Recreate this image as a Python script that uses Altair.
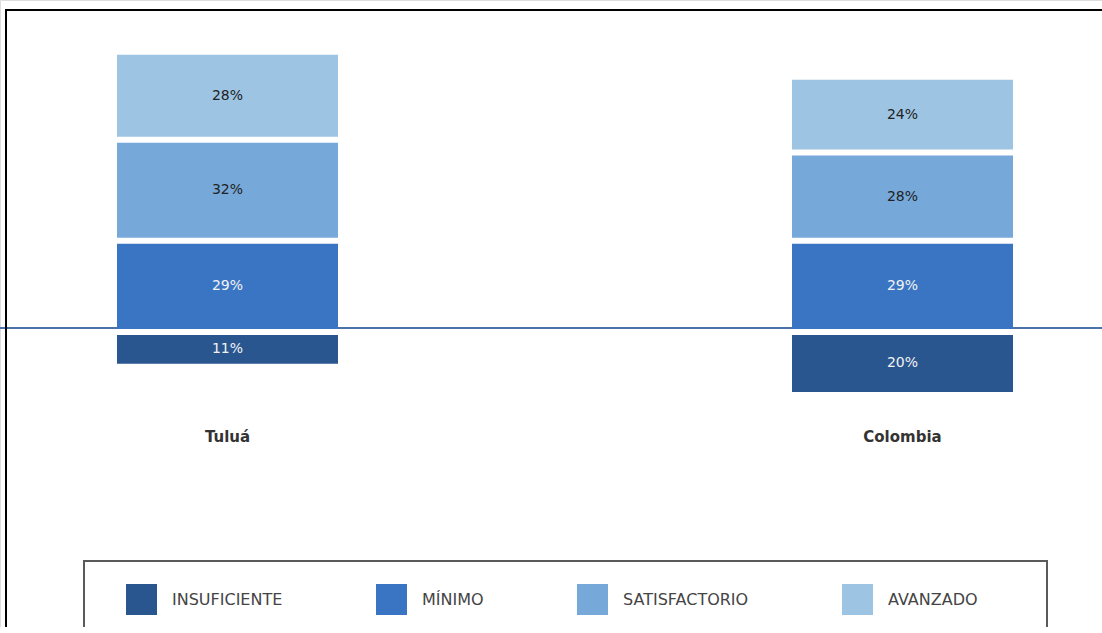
import altair as alt
import pandas as pd

categories = ["Tuluá", "Colombia"]
levels = ["INSUFICIENTE", "MÍNIMO", "SATISFACTORIO", "AVANZADO"]
tulua = [11, 29, 32, 28]
colombia = [20, 29, 28, 24]
colors = ["#2a5690", "#3a75c4", "#76a9d9", "#9dc4e3"]

rows = []
for cat, vals in zip(categories, [tulua, colombia]):
    pos = 0
    for i, (lvl, v) in enumerate(zip(levels, vals)):
        if i == 0:
            start, end = -v, 0
        else:
            start, end = pos, pos + v
            pos = end
        rows.append({"cat": cat, "level": lvl, "order": i, "value": v,
                     "start": start, "end": end, "mid": (start + end) / 2,
                     "label": f"{v}%"})
df = pd.DataFrame(rows)

W, H = 1102, 627
yscale = alt.Scale(domain=[-94.29, 104.76], nice=False, zero=False)
xscale = alt.Scale(domain=categories, range=[117, 1013], paddingInner=0.6726, paddingOuter=0)

base = alt.Chart(df)

bars = base.mark_bar(yOffset=-1, y2Offset=5).encode(
    x=alt.X("cat:N", scale=xscale, axis=None, sort=categories),
    y=alt.Y("start:Q", scale=yscale, axis=None),
    y2="end:Q",
    color=alt.Color("level:N", sort=levels,
                    scale=alt.Scale(domain=levels, range=colors),
                    legend=alt.Legend(title=None, orient="none", legendX=126, legendY=584,
                                      direction="horizontal", columns=4, symbolType="square",
                                      symbolSize=961, symbolStrokeWidth=0, labelOffset=15,
                                      columnPadding=93, labelFont="DejaVu Sans", labelFontSize=16,
                                      labelColor="#444444", padding=0)),
)

vals = base.mark_text(font="DejaVu Sans", fontSize=14, dy=2).encode(
    x=alt.X("cat:N", scale=xscale, axis=None, sort=categories),
    y=alt.Y("mid:Q", scale=yscale, axis=None),
    text="label:N",
    color=alt.condition(alt.FieldOneOfPredicate(field="level", oneOf=["INSUFICIENTE", "MÍNIMO"]),
                        alt.value("#f2f2f2"), alt.value("#222222")),
)

catdf = pd.DataFrame({"cat": categories})
catlabels = alt.Chart(catdf).mark_text(font="DejaVu Sans", fontSize=15, fontWeight="bold",
                                       color="#333333").encode(
    x=alt.X("cat:N", scale=xscale, axis=None, sort=categories),
    y=alt.value(437),
    text="cat:N",
)

zero = alt.Chart(pd.DataFrame({"v": [0]})).mark_rule(color="#4a72a8", strokeWidth=2, yOffset=-2).encode(
    y=alt.Y("v:Q", scale=yscale, axis=None),
    x=alt.value(0), x2=alt.value(W),
)

one = pd.DataFrame({"k": [0]})
frame_top = alt.Chart(one).mark_rule(color="black", strokeWidth=2).encode(
    x=alt.value(5), x2=alt.value(W), y=alt.value(10))
frame_left = alt.Chart(one).mark_rule(color="black", strokeWidth=2).encode(
    x=alt.value(6), y=alt.value(10), y2=alt.value(H))
legbox = alt.Chart(one).mark_rect(fillOpacity=0, stroke="#5a5a5a", strokeWidth=2).encode(
    x=alt.value(84), x2=alt.value(1047), y=alt.value(561), y2=alt.value(H + 40))

chart = alt.layer(zero, bars, vals, catlabels, frame_top, frame_left, legbox).properties(
    width=W, height=H, padding=0, autosize=alt.AutoSizeParams(type="none")
).configure_view(strokeWidth=0, strokeOpacity=0).configure(background="white")

chart.save("out.html", embed_options={"renderer": "svg", "actions": False})
